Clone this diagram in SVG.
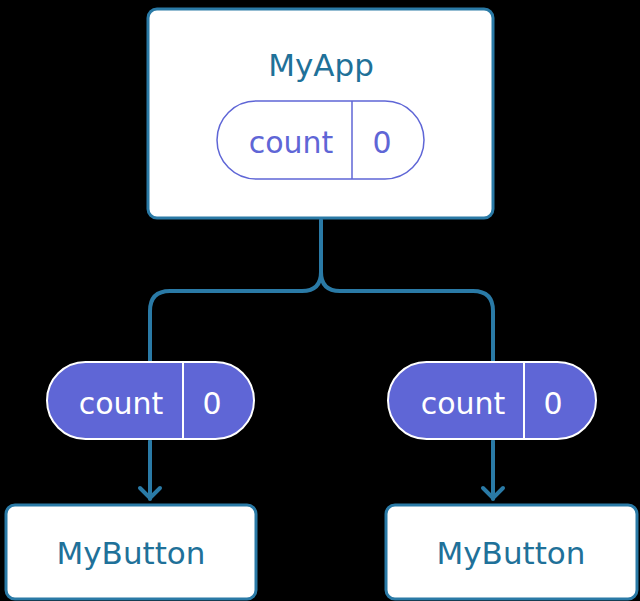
<svg xmlns="http://www.w3.org/2000/svg" width="640" height="601" viewBox="0 0 640 601">
  <style>
    .box { fill: #ffffff; stroke: #2a7aa6; stroke-width: 3; }
    .title { font-family: "DejaVu Sans", sans-serif; font-size: 31px; fill: #1f7199; text-anchor: middle; }
    .pillo { fill: #ffffff; stroke: #5f66d6; stroke-width: 1.5; }
    .pillf { fill: #5f66d6; stroke: #ffffff; stroke-width: 2; }
    .lblo { font-family: "DejaVu Sans", sans-serif; font-size: 30px; fill: #5f66d6; text-anchor: middle; }
    .lblf { font-family: "DejaVu Sans", sans-serif; font-size: 30px; fill: #ffffff; text-anchor: middle; }
    .div-o { stroke: #5f66d6; stroke-width: 1.5; }
    .div-f { stroke: #ffffff; stroke-width: 2; }
    .conn { fill: none; stroke: #2a7aa6; stroke-width: 4; stroke-linecap: round; stroke-linejoin: round; }
  </style>
  <rect x="0" y="0" width="640" height="601" fill="#000000"/>

  <g id="connectors">
    <path class="conn" d="M321 220 V272 Q321 291 302 291 H170 Q150 291 150 311 V361"/>
    <path class="conn" d="M321 272 Q321 291 340 291 H473 Q493 291 493 311 V361"/>
    <path class="conn" d="M150 441 V499"/>
    <path class="conn" d="M140 488 L150 498 L160 488"/>
    <path class="conn" d="M493 441 V499"/>
    <path class="conn" d="M483 488 L493 498 L503 488"/>
  </g>

  <g id="myapp">
    <rect class="box" x="148" y="9" width="345" height="209" rx="9"/>
    <text class="title" x="321" y="76">MyApp</text>
    <g id="myapp-state">
      <rect class="pillo" x="217" y="101" width="207" height="78" rx="39"/>
      <line class="div-o" x1="352" y1="101" x2="352" y2="179"/>
      <text class="lblo" x="291" y="153">count</text>
      <text class="lblo" x="382" y="153">0</text>
    </g>
  </g>

  <g id="state-left">
    <rect class="pillf" x="47" y="362" width="207" height="77" rx="38.5"/>
    <line class="div-f" x1="183" y1="362" x2="183" y2="439"/>
    <text class="lblf" x="121" y="414">count</text>
    <text class="lblf" x="212" y="414">0</text>
  </g>

  <g id="state-right">
    <rect class="pillf" x="388" y="362" width="208" height="77" rx="38.5"/>
    <line class="div-f" x1="524" y1="362" x2="524" y2="439"/>
    <text class="lblf" x="463" y="414">count</text>
    <text class="lblf" x="553" y="414">0</text>
  </g>

  <g id="mybutton-left">
    <rect class="box" x="6" y="505" width="250" height="94" rx="9"/>
    <text class="title" x="131" y="564">MyButton</text>
  </g>

  <g id="mybutton-right">
    <rect class="box" x="386" y="505" width="251" height="94" rx="9"/>
    <text class="title" x="511" y="564">MyButton</text>
  </g>
</svg>
